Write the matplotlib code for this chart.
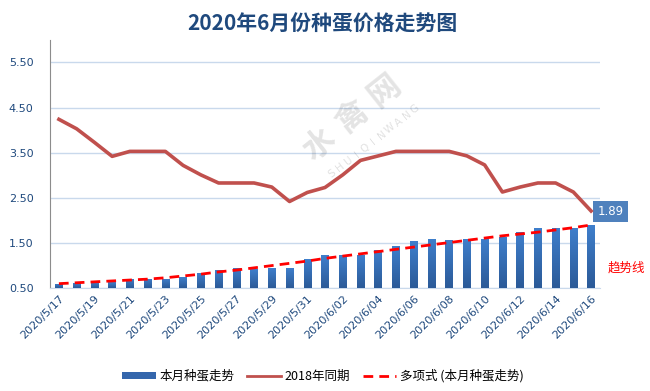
import matplotlib
matplotlib.use("Agg")
import matplotlib.pyplot as plt
from matplotlib.colors import LinearSegmentedColormap
from matplotlib.patches import Patch
from matplotlib.lines import Line2D
import numpy as np

plt.rcParams['font.family'] = ['Noto Sans CJK SC', 'DejaVu Sans']

dates = ["2020/5/17", "2020/5/18", "2020/5/19", "2020/5/20", "2020/5/21", "2020/5/22",
         "2020/5/23", "2020/5/24", "2020/5/25", "2020/5/26", "2020/5/27", "2020/5/28",
         "2020/5/29", "2020/5/30", "2020/5/31", "2020/6/01", "2020/6/02", "2020/6/03",
         "2020/6/04", "2020/6/05", "2020/6/06", "2020/6/07", "2020/6/08", "2020/6/09",
         "2020/6/10", "2020/6/11", "2020/6/12", "2020/6/13", "2020/6/14", "2020/6/15",
         "2020/6/16"]

# 本月种蛋走势
this_month = [0.59, 0.61, 0.63, 0.63, 0.70, 0.70, 0.70, 0.74, 0.83, 0.90, 0.94, 0.92,
              0.94, 0.94, 1.14, 1.23, 1.23, 1.23, 1.34, 1.43, 1.54, 1.59, 1.57, 1.59,
              1.59, 1.63, 1.74, 1.83, 1.83, 1.83, 1.89]

# 2018年同期
same_2018 = [4.24, 4.03, 3.73, 3.42, 3.53, 3.53, 3.53, 3.22, 3.01, 2.83, 2.83, 2.83,
             2.74, 2.42, 2.62, 2.73, 3.01, 3.33, 3.43, 3.53, 3.53, 3.53, 3.53, 3.43,
             3.23, 2.63, 2.74, 2.83, 2.83, 2.63, 2.21]

# 多项式 (本月种蛋走势)
trend = [0.60, 0.62, 0.64, 0.66, 0.68, 0.70, 0.73, 0.77, 0.81, 0.86, 0.90, 0.95,
         1.00, 1.05, 1.10, 1.16, 1.21, 1.26, 1.31, 1.36, 1.41, 1.46, 1.51, 1.56,
         1.61, 1.66, 1.70, 1.74, 1.79, 1.84, 1.90]

yticks = [0.5, 1.5, 2.5, 3.5, 4.5, 5.5]

x = np.arange(len(dates))
txt_blue = "#1F497D"

fig = plt.figure(figsize=(6.5, 3.91), dpi=100)
ax = fig.add_axes([0.077, 0.263, 0.846, 0.635])

ax.set_xlim(-0.5, len(dates) - 0.5)
ax.set_ylim(0.5, 6.0)

bars = ax.bar(x, np.array(this_month) - 0.5, bottom=0.5, width=0.42, color="#3A6FB8", zorder=3)
# vertical gradient inside each bar
grad_cmap = LinearSegmentedColormap.from_list("bar", ["#2B5A98", "#3F7FCC"])
grad = np.linspace(0, 1, 64).reshape(-1, 1)
for b in bars:
    x0, y0 = b.get_x(), b.get_y()
    im = ax.imshow(grad, cmap=grad_cmap, origin="lower", aspect="auto", zorder=3,
                   extent=[x0, x0 + b.get_width(), y0, y0 + b.get_height()])
    b.set_facecolor("none")
    im.set_clip_path(b)

ax.plot(x, same_2018, color="#C0504D", lw=2.6, zorder=4)
ax.plot(x, trend, color="#FF0000", lw=2, ls=(0, (3.5, 2.2)), zorder=5)

ax.set_xlim(-0.5, len(dates) - 0.5)
ax.set_ylim(0.5, 6.0)
ax.set_yticks(yticks)
ax.set_yticklabels(["%.2f" % v for v in yticks], color=txt_blue, fontsize=8, family="DejaVu Sans")
ax.set_xticks(x[::2])
ax.set_xticklabels(dates[::2], rotation=45, ha="right", rotation_mode="anchor",
                   color=txt_blue, fontsize=8, family="DejaVu Sans")
ax.tick_params(axis="x", length=0, pad=4)
ax.tick_params(axis="y", length=0, pad=12)
ax.grid(axis="y", color="#C9D9EC", lw=1, zorder=0)
for s in ["top", "right"]:
    ax.spines[s].set_visible(False)
ax.spines["left"].set_color("#8C8C8C")
ax.spines["bottom"].set_color("#C9D9EC")

# watermark
ang = 38.5
for i, ch in enumerate("水禽网"):
    px, py = 319 + 33 * i, 145 - 27 * i
    fig.text(px / 650, 1 - py / 391, ch, fontsize=23, color="#000000", alpha=0.11,
             rotation=ang, ha="center", va="center", fontweight="bold")
for i, ch in enumerate("SHUIQINWANG"):
    px, py = 332 + 8.3 * i, 174 - 6.5 * i
    fig.text(px / 650, 1 - py / 391, ch, fontsize=7.5, color="#000000", alpha=0.12,
             rotation=ang, ha="center", va="center", family="DejaVu Sans")

# last value label
ax.annotate("%.2f" % this_month[-1], xy=(x[-1], this_month[-1]), xytext=(14, 10),
            textcoords="offset points", ha="center", va="center", color="white", fontsize=8.5,
            family="DejaVu Sans",
            bbox=dict(boxstyle="square,pad=0.35", fc="#4F81BD", ec="none"),
            annotation_clip=False)
fig.text(626 / 650, 1 - 268 / 391, "趋势线", color="#FF0000", fontsize=9, ha="center", va="center")

fig.text(322 / 650, 1 - 24.5 / 391, "2020年6月份种蛋价格走势图", ha="center", va="center",
         fontsize=15, fontweight="bold", color=txt_blue)

handles = [Patch(facecolor="#3466AC", label="本月种蛋走势"),
           Line2D([], [], color="#C0504D", lw=2, label="2018年同期"),
           Line2D([], [], color="#FF0000", lw=2, ls=(0, (3.5, 2.2)), label="多项式 (本月种蛋走势)")]
fig.legend(handles=handles, loc="center", bbox_to_anchor=(323 / 650, 1 - 376 / 391),
           ncol=3, frameon=False, fontsize=9, handlelength=2.7, handleheight=0.5,
           columnspacing=1.0, handletextpad=0.3)

fig.savefig("out.png", dpi=100)
